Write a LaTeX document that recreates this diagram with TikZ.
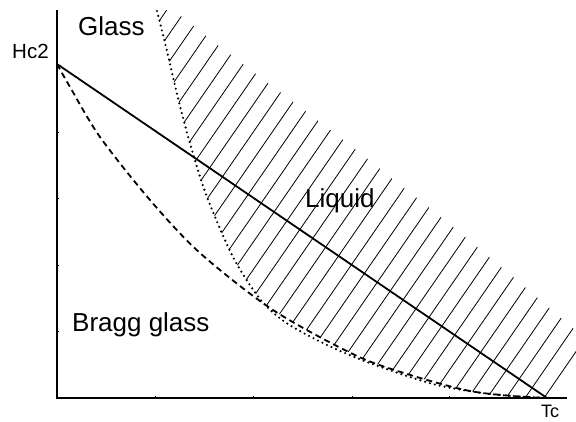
\documentclass[tikz,border=0pt]{standalone}
\usepackage{fontspec}
\setmainfont{Liberation Sans}
\begin{document}
\begin{tikzpicture}[x=1pt,y=-1pt,
  axis/.style={line width=1.3pt},
  tickmark/.style={line width=0.6pt},
  solidline/.style={line width=1.8pt},
  dashline/.style={line width=1.8pt, dash pattern=on 6pt off 4pt},
  dotline/.style={line width=2.4pt, dash pattern=on 0pt off 5pt, line cap=round},
  hatchline/.style={line width=0.8pt},
  biglabel/.style={anchor=base west, inner sep=0pt, font=\fontsize{26}{26}\selectfont},
  smalllabel/.style={anchor=base west, inner sep=0pt},
]
\useasboundingbox (0,0) rectangle (576,421);

\coordinate (O) at (57,398);
\coordinate (Ytop) at (57,10);
\coordinate (Xend) at (567,398);
\coordinate (Hc) at (57,64);
\coordinate (Tc) at (547,398);

% hatched liquid region
\begin{scope}
  \clip (0,10) rectangle (576,421);
  \clip (140,-30) -- plot[smooth] coordinates {(157,11) (166,47) (178,98) (191,147) (207,197) (233,257) (260,299) (285,322) (323,343) (367,362) (433,384) (490,394) (547,398)} -- (647,253) -- (700,-30) -- cycle;
  \clip (0,-30) -- (0,64) -- plot[smooth] coordinates {(57,64) (70,87) (100,137) (150,200) (200,253) (273,310) (357,356) (417,377) (470,391) (513,396) (547,398)} -- (647,253) -- (700,-30) -- cycle;
  \clip plot[smooth] coordinates {(138,-20) (177,13) (248,68) (338,136) (453,227) (575,330) (660,408)} -- (0,430) -- (0,-30) -- cycle;
  \foreach \n in {-10,...,30} {
    \draw[hatchline] ({(444.3+\n*27.5)/1.45},0) -- ({(444.3+\n*27.5-421)/1.45},421);
  }
\end{scope}

% curves
\draw[dotline] plot[smooth] coordinates {(157,11) (166,47) (178,98) (191,147) (207,197) (233,257) (260,299) (285,322) (323,343) (367,362) (433,384) (490,394) (547,398)};
\draw[dashline] plot[smooth] coordinates {(57,64) (70,87) (100,137) (150,200) (200,253) (273,310) (357,356) (417,377) (470,391) (513,396) (547,398)};
\draw[solidline] (Hc) -- (Tc);

% axes
\draw[axis] (Ytop) -- (O) -- (Xend);
\foreach \x in {155,253,352,449} \draw[tickmark] (\x,398) -- (\x,396);
\foreach \y in {65,132,198,265,331} \draw[tickmark] (57,\y) -- (59,\y);

% labels
\node[biglabel] (glass) at (78,35) {Glass};
\node[biglabel] (liquid) at (305,207) {Liquid};
\node[biglabel] (bragg) at (72,331) {Bragg glass};
\node[smalllabel, font=\fontsize{20.5}{20.5}\selectfont] (hc2) at (12,58) {Hc2};
\node[smalllabel, font=\fontsize{18}{18}\selectfont] (tc) at (541,417) {Tc};
\end{tikzpicture}
\end{document}
